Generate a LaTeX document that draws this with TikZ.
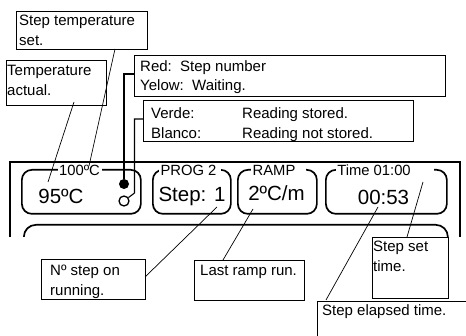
\documentclass[tikz,border=0pt]{standalone}
\usepackage{fontspec}
\setmainfont{Liberation Sans}
\usetikzlibrary{calc}
\begin{document}
\begin{tikzpicture}[x=1pt,y=-1pt,
  cbox/.style={draw=black,line width=0.8pt,inner sep=0pt,anchor=north west},
  ctext/.style={inner sep=0pt,anchor=north west,align=left,font=\fontsize{15}{19.5}\selectfont},
  disp/.style={draw=black,line width=1.7pt,rounded corners=10pt,inner sep=0pt,anchor=north west},
  lbl/.style={inner sep=0pt,anchor=base,font=\fontsize{14.8}{17}\selectfont},
  big/.style={inner sep=0pt,anchor=base,font=\fontsize{20.5}{24}\selectfont},
  con/.style={line width=0.7pt},
  wire/.style={line width=1.1pt},
  gap/.style={fill=white,draw=none}]
\useasboundingbox (0,0) rectangle (466,336);

% display panel (cut off at the bottom)
\begin{scope}
\clip (0,0) rectangle (466,237);
\draw[line width=2.2pt] (10,320) -- (10,162) -- (460,162) -- (460,320);
\node[disp, minimum width=424, minimum height=80, rounded corners=12pt] (row2) at (23,224) {};
\end{scope}

\node[disp, minimum width=119, minimum height=44] (b1) at (21,169) {};
\node[disp, minimum width=78, minimum height=44] (b2) at (152,169) {};
\node[disp, minimum width=79, minimum height=44] (b3) at (237,169) {};
\node[disp, minimum width=121, minimum height=44] (b4) at (325,169) {};

% gaps in the box tops for the labels
\fill[gap] (58,164) rectangle (102,174);
\fill[gap] (159,164) rectangle (221,174);
\fill[gap] (251,164) rectangle (306,174);
\fill[gap] (336,164) rectangle (434,174);

\node[lbl] (l1) at (79.5,176) {100ºC};
\node[lbl] (l2) at (188.5,176) {PROG 2};
\node[lbl] (l3) at (274,176) {RAMP};
\node[lbl] (l4) at (374,176) {Time 01:00};

\node[big] (v1) at (61,204) {95ºC};
\node[big] (v2) at (192,202) {Step: 1};
\node[big] (v3) at (276.5,201) {2ºC/m};
\node[big] (v4) at (383.5,205) {00:53};

\node[circle, fill=black, inner sep=0pt, minimum size=10pt] (led1) at (124,184) {};
\node[circle, draw=black, line width=1.3pt, inner sep=0pt, minimum size=10pt] (led2) at (124,201) {};

% callout boxes
\node[cbox, minimum width=131, minimum height=38] (st) at (16,11) {};
\node[ctext] (stt) at (19,15.2) {Step temperature\\set.};
\node[cbox, minimum width=100, minimum height=45] (ta) at (6,60) {};
\node[ctext] (tat) at (7,65.2) {Temperature\\actual.};
\node[cbox, minimum width=311, minimum height=41] (rd) at (133.5,55.5) {};
\node[ctext] (rdt) at (140,60) {Red:\ \ Step number\\Yelow:\ \ Waiting.};
\node[cbox, minimum width=270, minimum height=41] (vd) at (143,100.5) {};
\node[ctext] (vdt) at (151,107.5) {\makebox[91pt][l]{Verde:}Reading stored.\\\makebox[91pt][l]{Blanco:}Reading not stored.};
\node[cbox, minimum width=104, minimum height=40] (ns) at (41,259) {};
\node[ctext] (nst) at (50,265) {Nº step on\\running.};
\node[cbox, minimum width=110, minimum height=40] (lr) at (194,260) {};
\node[ctext] (lrt) at (200,265.2) {Last ramp run.};
\node[cbox, minimum width=76, minimum height=61] (ss) at (372,237) {};
\node[ctext] (sst) at (373,241) {Step set\\time.};
\node[cbox, minimum width=160, minimum height=50] (se) at (317,301) {};
\node[ctext] (set) at (322,304.2) {Step elapsed time.};

% connector points
\coordinate (rdj) at (124,74);
\coordinate (vdj) at (134.5,119);
\coordinate (vdk) at (134.5,193);
\coordinate (ta1) at (74,102);
\coordinate (ta2) at (48,182);
\coordinate (st1) at (115,49);
\coordinate (st2) at (89,166);
\coordinate (ns1) at (217,207);
\coordinate (ns2) at (145,277);
\coordinate (lr1) at (253,209);
\coordinate (lr2) at (223,260);
\coordinate (se1) at (378,207);
\coordinate (se2) at (326,300);
\coordinate (ss1) at (423,182);
\coordinate (ss2) at (407,237);

\draw[wire] (rd.west |- rdj) -- (rdj) -- (led1);
\draw[wire] (vd.west |- vdj) -- (vdj) -- (vdk) -- (led2);
\draw[con] (ta1) -- (ta2);
\draw[con] (st1) -- (st2);
\draw[con] (ns1) -- (ns2);
\draw[con] (lr1) -- (lr2);
\draw[con] (se1) -- (se2);
\draw[con] (ss1) -- (ss2);
\end{tikzpicture}
\end{document}
